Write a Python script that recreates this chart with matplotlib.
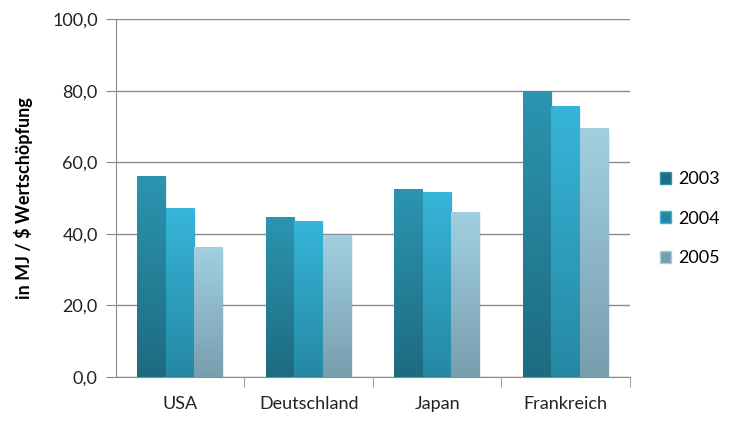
import numpy as np
import matplotlib.pyplot as plt
from matplotlib.colors import LinearSegmentedColormap
from matplotlib.ticker import FuncFormatter
from matplotlib.patches import Patch

plt.rcParams['font.family'] = ['Lato', 'DejaVu Sans']

laender = ['USA', 'Deutschland', 'Japan', 'Frankreich']
jahre = ['2003', '2004', '2005']
werte_2003 = [56.1, 44.6, 52.4, 79.8]
werte_2004 = [47.1, 43.5, 51.6, 75.8]
werte_2005 = [36.2, 39.6, 46.0, 69.5]

# (oben, unten) Farbverlauf je Jahr
farben = [('#2b95b0', '#1e6b80'),
          ('#37b5da', '#2588a3'),
          ('#a2d0e1', '#789eae')]

fig = plt.figure(figsize=(7.29, 4.24), dpi=100)
ax = fig.add_axes([0.159, 0.111, 0.705, 0.844])

x = np.arange(len(laender))
breite = 0.222
serien = [werte_2003, werte_2004, werte_2005]

for i, (werte, (oben, unten)) in enumerate(zip(serien, farben)):
    cmap = LinearSegmentedColormap.from_list('g%d' % i, [unten, oben])
    pos = x + (i - 1) * breite
    bars = ax.bar(pos, werte, width=breite, color='none', zorder=3)
    for b in bars:
        bx, by = b.get_x(), b.get_y()
        bw, bh = b.get_width(), b.get_height()
        # leichter Schatten rechts
        ax.bar(bx + bw / 2 + 0.012, bh - 0.4, width=bw, bottom=0, color='#000000',
               alpha=0.08, zorder=2.5, linewidth=0)
        grad = np.linspace(0, 1, 256).reshape(-1, 1)
        img = ax.imshow(grad, cmap=cmap, origin='lower', aspect='auto',
                        extent=[bx, bx + bw, by, by + bh], zorder=3)
        img.set_clip_path(b)

ax.set_xlim(-0.5, len(laender) - 0.5)
ax.set_ylim(0, 100)
ax.set_yticks(np.arange(0, 101, 20))
ax.yaxis.set_major_formatter(FuncFormatter(lambda v, p: ('%.1f' % v).replace('.', ',')))
ax.set_xticks(x)
ax.set_xticklabels(laender)
ax.set_xticks(np.arange(0.5, len(laender), 1), minor=True)

ax.grid(axis='y', color='#8c8c8c', linewidth=1, zorder=0)
ax.set_axisbelow(True)
for s in ['top', 'right']:
    ax.spines[s].set_visible(False)
for s in ['left', 'bottom']:
    ax.spines[s].set_color('#8c8c8c')
ax.tick_params(axis='y', length=7, color='#8c8c8c', labelsize=13, labelcolor='#222222', pad=6)
ax.tick_params(axis='x', which='major', length=0, labelsize=13, labelcolor='#222222', pad=14)
ax.tick_params(axis='x', which='minor', length=7, color='#8c8c8c')

ax.set_ylabel('in MJ / $ Wertschöpfung', fontsize=13, fontweight='bold', labelpad=14)

handles = [Patch(facecolor=unten, edgecolor=oben) for oben, unten in farben]
fig.legend(handles, jahre, loc='center left', bbox_to_anchor=(0.9, 0.484), frameon=False,
           fontsize=13, handlelength=0.65, handleheight=0.65, handletextpad=0.35,
           labelspacing=1.3, borderaxespad=0, borderpad=0.2)

fig.savefig('out.png', dpi=100)
